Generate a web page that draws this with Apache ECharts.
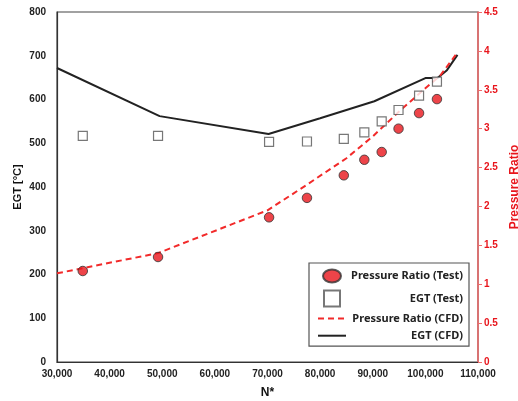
<!DOCTYPE html>
<html><head><meta charset="utf-8">
<script src="https://cdn.jsdelivr.net/npm/echarts@6/dist/echarts.min.js"></script>
<style>html,body{margin:0;padding:0;background:#fff}#c{width:518px;height:401px}</style>
</head><body><div id="c"></div>
<script>
// Test data
var testN   = [34900, 49200, 70300, 77500, 84500, 88400, 91700, 94900, 98800, 102200];
var testEGT = [517, 517, 503, 504, 510, 525, 550, 576, 609, 641];
var testPR  = [1.17, 1.35, 1.86, 2.11, 2.40, 2.60, 2.70, 3.00, 3.20, 3.38];
// CFD curves
var cfdEgtN = [30000, 49500, 70200, 80000, 90300, 100000, 102300, 104100, 106100];
var cfdEGT  = [672, 562, 521, 557, 596, 649, 649, 667, 702];
var cfdPrN  = [30000, 49200, 70000, 77500, 85000, 90000, 95000, 100000, 102800, 106000];
var cfdPR   = [1.14, 1.40, 1.95, 2.28, 2.62, 2.90, 3.22, 3.52, 3.68, 3.97];
// axis ticks
var xTicks = {min: 30000, max: 110000, step: 10000};
var egtTicks = {min: 0, max: 800, step: 100};
var prTicks = {min: 0, max: 4.5, step: 0.5};

function pairs(xs, ys){ return xs.map(function(x,i){return [x, ys[i]];}); }

var red = '#e8151c';
var axisFont = {fontFamily: 'Liberation Sans', fontWeight: 'bold', fontSize: 10};
// legend icons: padded to the 28x16 legend box so the shapes are not stretched
var iconEllipse = 'path://M0,0 M28,16 M5,8 A9,6.5 0 1,0 23,8 A9,6.5 0 1,0 5,8 Z';
var iconSquare  = 'path://M0,0 M28,16 M6,0 L22,0 L22,16 L6,16 Z';
var chart = echarts.init(document.getElementById('c'), null, {renderer: 'canvas'});
chart.setOption({
  animation: false,
  backgroundColor: '#fff',
  grid: {left: 57, right: 40, top: 12, bottom: 39, outerBoundsMode: 'none', containLabel: false,
         show: true, borderColor: '#444', borderWidth: 1.2, backgroundColor: 'transparent'},
  xAxis: {
    type: 'value', min: xTicks.min, max: xTicks.max, interval: xTicks.step,
    name: 'N*', nameLocation: 'middle', nameGap: 25,
    nameTextStyle: {fontFamily: 'Liberation Sans', fontWeight: 'bold', fontSize: 12, color: '#111'},
    axisLine: {lineStyle: {color: '#333', width: 1.2}},
    axisTick: {show: false},
    axisLabel: Object.assign({color: '#222', margin: 7}, axisFont),
    splitLine: {show: false}
  },
  yAxis: [{
    type: 'value', min: egtTicks.min, max: egtTicks.max, interval: egtTicks.step,
    name: 'EGT [°C]', nameLocation: 'middle', nameGap: 34, nameRotate: 90, nameMoveOverlap: false,
    nameTextStyle: {fontFamily: 'Liberation Sans', fontWeight: 'bold', fontSize: 11, color: '#111'},
    axisLine: {show: true, lineStyle: {color: '#333', width: 1.2}},
    axisTick: {show: false},
    axisLabel: Object.assign({color: '#222', margin: 11}, axisFont),
    splitLine: {show: false}
  }, {
    type: 'value', position: 'right', min: prTicks.min, max: prTicks.max, interval: prTicks.step,
    name: 'Pressure Ratio', nameLocation: 'middle', nameGap: 24, nameRotate: 90,
    nameTextStyle: {fontFamily: 'Liberation Sans', fontWeight: 'bold', fontSize: 12, color: red},
    axisLine: {show: true, lineStyle: {color: '#f06a6a', width: 1.5}},
    axisTick: {show: true, length: 4, lineStyle: {color: '#f06a6a'}},
    axisLabel: Object.assign({color: red, margin: 6}, axisFont),
    splitLine: {show: false}
  }],
  legend: {
    orient: 'vertical', left: 309, top: 263,
    padding: [4, 6, 4, 8], itemGap: 4.5, itemWidth: 28, itemHeight: 16,
    backgroundColor: '#fff', borderColor: '#555', borderWidth: 1.2,
    data: [
      {name: 'Pressure Ratio (Test)', icon: iconEllipse},
      {name: 'EGT (Test)', icon: iconSquare},
      {name: 'Pressure Ratio (CFD)', itemStyle: {opacity: 0}},
      {name: 'EGT (CFD)', itemStyle: {opacity: 0}}
    ],
    formatter: function(n){ return '{t|' + n + '}'; },
    textStyle: {
      rich: {t: {width: 112, align: 'right', fontFamily: 'Noto Sans', fontWeight: 'bold', fontSize: 11, color: '#222'}}
    }
  },
  series: [{
    name: 'EGT (CFD)', type: 'line', yAxisIndex: 0, data: pairs(cfdEgtN, cfdEGT),
    symbol: 'none', lineStyle: {color: '#222', width: 2}, itemStyle: {color: '#333'}, z: 2
  }, {
    name: 'Pressure Ratio (CFD)', type: 'line', yAxisIndex: 1, data: pairs(cfdPrN, cfdPR),
    symbol: 'none', lineStyle: {color: '#f22a2a', width: 2, type: [6, 4]}, itemStyle: {color: '#f22a2a'}, z: 2
  }, {
    name: 'EGT (Test)', type: 'scatter', yAxisIndex: 0, data: pairs(testN, testEGT),
    symbol: 'rect', symbolSize: 9,
    itemStyle: {color: '#fff', borderColor: '#555', borderWidth: 1.2}, z: 3
  }, {
    name: 'Pressure Ratio (Test)', type: 'scatter', yAxisIndex: 1, data: pairs(testN, testPR),
    symbol: 'circle', symbolSize: 9.5,
    itemStyle: {color: red, borderColor: '#333', borderWidth: 1}, z: 4
  }]
});
</script></body></html>
